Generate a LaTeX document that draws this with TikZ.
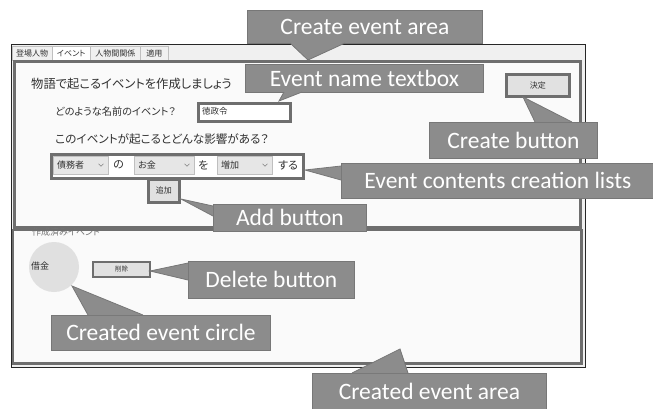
\documentclass[tikz,border=0pt]{standalone}
\usepackage{fontspec}
\setmainfont{Carlito}
\newfontfamily\jp[RawFeature=+palt]{Noto Sans CJK JP}
\newfontfamily\callfont{Carlito}
\definecolor{cfill}{HTML}{8C8C8C}
\definecolor{cline}{HTML}{777777}
\definecolor{hl}{HTML}{6E6E6E}
\definecolor{winbg}{HTML}{F0F0F0}
\definecolor{panelbg}{HTML}{FAFAFA}
\definecolor{btnbg}{HTML}{E1E1E1}
\definecolor{combobg}{HTML}{E6E6E6}
\definecolor{txt}{HTML}{303030}
\newcommand\mypointer[3]{\fill[cfill] #1 -- #2 -- #3 -- cycle; \draw[cline, line width=0.8] #1 -- #2 -- #3;}
\newcommand\comboarrow[2]{\draw[gray, line width=0.6] (#1-2.5,#2-1.2) -- (#1,#2+1.3) -- (#1+2.5,#2-1.2);}
\tikzset{
  callout/.style={fill=cfill, draw=cline, line width=0.8, text=white, font=\callfont\fontsize{23.5}{24}\selectfont, inner sep=0, anchor=north west},
  panel/.style={fill=panelbg, draw=hl, line width=2.5, anchor=north west, inner sep=0},
  btn/.style={draw=hl, line width=2.5, fill=btnbg, inner sep=0, anchor=north west, text=txt, font=\jp\fontsize{8}{9}\selectfont},
  combo/.style={draw=black!25, line width=0.5, fill=combobg, inner sep=0, anchor=north west},
  tabbox/.style={draw=black!25, line width=0.5, fill=winbg, inner sep=0, anchor=north west, text=txt, font=\jp\fontsize{8}{9}\selectfont},
  jtext/.style={anchor=west, inner sep=0, text=txt},
}
\begin{document}
\begin{tikzpicture}[x=1pt,y=-1pt]
\useasboundingbox (0,0) rectangle (653,408);
\fill[white] (0,0) rectangle (653,408);
% window
\node[draw=black!85, fill=winbg, line width=0.8, minimum width=574, minimum height=323, anchor=north west, inner sep=0] (win) at (11,44) {};
% tabs
\node[tabbox, minimum width=40, minimum height=14] (tab1) at (12,46) {登場人物};
\node[tabbox, fill=white, minimum width=38, minimum height=14] (tab2) at (52,46) {イベント};
\node[tabbox, minimum width=50, minimum height=14] (tab3) at (90,46) {人物間関係};
\node[tabbox, minimum width=28, minimum height=14] (tab4) at (140,46) {適用};
% panels
\node[panel, minimum width=566, minimum height=166] (upper) at (13,60) {};
\node[panel, draw=none, minimum width=566, minimum height=131] (lower) at (13,230) {};
\node[jtext, text=black!55, font=\jp\fontsize{9}{10}\selectfont] (cap) at (32,232.5) {作成済みイベント};
\draw[hl, line width=2.5] (lower.north west) rectangle (lower.south east);
% upper content
\node[jtext, font=\jp\fontsize{12.3}{14}\selectfont] (head) at (31,84) {物語で起こるイベントを作成しましょう};
\node[jtext, font=\jp\fontsize{10.2}{12}\selectfont] (q1) at (55,112) {どのような名前のイベント？};
\node[draw=hl, line width=2.5, fill=white, minimum width=92, minimum height=18, anchor=north west, inner sep=0] (tbox) at (197,102) {};
\node[jtext, font=\jp\fontsize{8.5}{9}\selectfont] (tboxt) at (202,111) {徳政令};
\node[jtext, font=\jp\fontsize{11.6}{12}\selectfont] (q2) at (55,139) {このイベントが起こるとどんな影響がある？};
\node[draw=hl, line width=2.5, fill=white, minimum width=252, minimum height=24, anchor=north west, inner sep=0] (row) at (50,153) {};
\node[combo, minimum width=55, minimum height=18] (cb1) at (53,156) {};
\node[jtext, font=\jp\fontsize{9}{10}\selectfont] at (57,165) {債務者};
\comboarrow{101}{165}
\node[jtext, font=\jp\fontsize{11}{12}\selectfont] at (113,165) {の};
\node[combo, minimum width=60, minimum height=18] (cb2) at (134,156) {};
\node[jtext, font=\jp\fontsize{9}{10}\selectfont] at (138,165) {お金};
\comboarrow{187}{165}
\node[jtext, font=\jp\fontsize{11}{12}\selectfont] at (198,165) {を};
\node[combo, minimum width=55, minimum height=18] (cb3) at (217,156) {};
\node[jtext, font=\jp\fontsize{9}{10}\selectfont] at (221,165) {増加};
\comboarrow{265}{165}
\node[jtext, font=\jp\fontsize{11}{12}\selectfont] at (278,165) {する};
\node[btn, minimum width=31, minimum height=23] (addb) at (147,178) {追加};
\node[btn, minimum width=63, minimum height=22] (okb) at (505,73) {決定};
% lower content
\node[circle, fill=black!12, minimum size=50, inner sep=0] (circ) at (54,267) {};
\node[jtext, font=\jp\fontsize{9}{10}\selectfont] (circt) at (31,266) {借金};
\node[btn, line width=2, minimum width=57, minimum height=15, font=\jp\fontsize{6.5}{7}\selectfont] (delb) at (92,261) {削除};
% callouts
\node[callout, minimum width=235, minimum height=33] (cA) at (247,10) {Create event area};
\mypointer{(290,43)}{(308,60)}{(345,43)}
\node[callout, minimum width=238, minimum height=28] (cB) at (245,64) {Event name textbox};
\mypointer{(284,92)}{(279,101)}{(302,92)}
\node[callout, minimum width=168, minimum height=36] (cC) at (429,122) {Create button};
\mypointer{(535,122)}{(523,97)}{(572,122)}
\node[callout, minimum width=313, minimum height=35] (cD) at (341,163) {Event contents creation lists};
\mypointer{(341,166)}{(305,170)}{(341,180)}
\node[callout, minimum width=153, minimum height=27] (cE) at (213,204) {Add button};
\mypointer{(213,206)}{(181,199)}{(213,216)}
\node[callout, minimum width=166, minimum height=37] (cF) at (188,261) {Delete button};
\mypointer{(188,263)}{(150,271)}{(188,280)}
\node[callout, minimum width=219, minimum height=35] (cG) at (51,315) {Created event circle};
\mypointer{(88,315)}{(72,286)}{(143,315)}
\node[callout, minimum width=234, minimum height=36] (cH) at (312,373) {Created event area};
\mypointer{(352,373)}{(400,349)}{(408,373)}
\end{tikzpicture}
\end{document}
